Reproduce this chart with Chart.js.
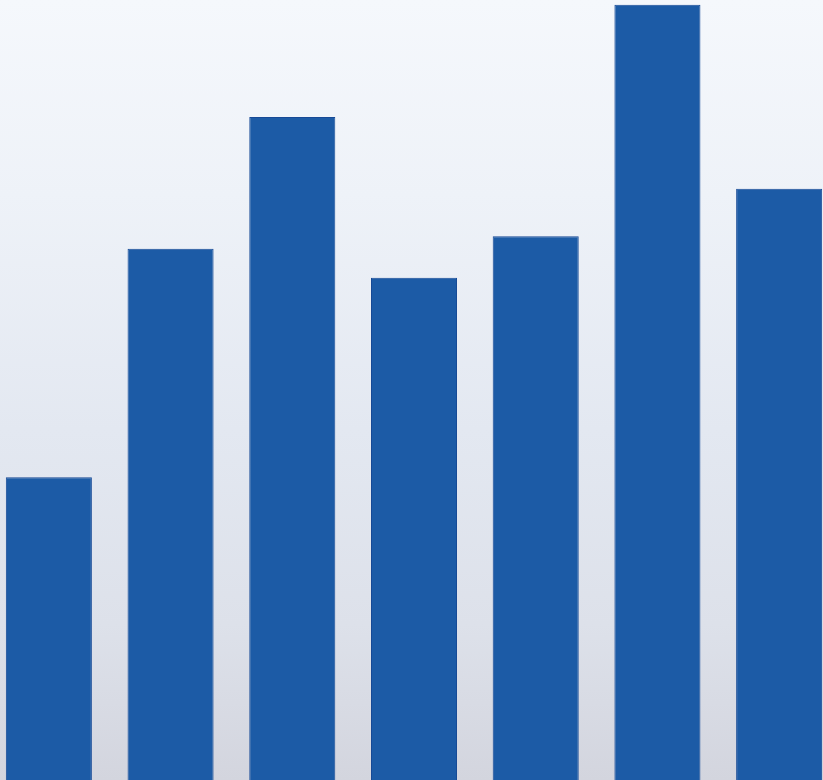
<!DOCTYPE html>
<html>
<head>
<meta charset="utf-8">
<script src="https://cdn.jsdelivr.net/npm/chart.js@4/dist/chart.umd.min.js"></script>
<style>
  html, body { margin: 0; padding: 0; width: 823px; height: 780px; overflow: hidden; }
  body {
    background: linear-gradient(to bottom, #f5f8fc 0%, #eef2f8 25%, #e3e8f1 55%, #dde1ea 80%, #d3d5de 100%);
    position: relative;
  }
  #wrap { position: absolute; left: -12px; top: 0; width: 852px; height: 780px; }
</style>
</head>
<body>
<div id="wrap"><canvas id="chart" width="852" height="780"></canvas></div>
<script>
// valeurs (echelle 0-100)
const labels = ["1", "2", "3", "4", "5", "6", "7"];
const values = [38.8, 68.1, 85.0, 64.4, 69.7, 99.4, 75.8];
const yMax = 100;

window.onload = function() {
    const ctx = document.getElementById('chart').getContext('2d');
    new Chart(ctx, {
        type: 'bar',
        data: {
            labels: labels,
            datasets: [{
                data: values,
                backgroundColor: '#1c5ba6',
                borderColor: '#174a96',
                borderWidth: 1,
                categoryPercentage: 1.0,
                barPercentage: 0.707
            }]
        },
        options: {
            responsive: false,
            animation: false,
            layout: { padding: 0 },
            plugins: {
                legend: { display: false },
                tooltip: { enabled: false }
            },
            scales: {
                x: { display: false },
                y: { display: false, min: 0, max: yMax }
            }
        }
    });
};
</script>
</body>
</html>
